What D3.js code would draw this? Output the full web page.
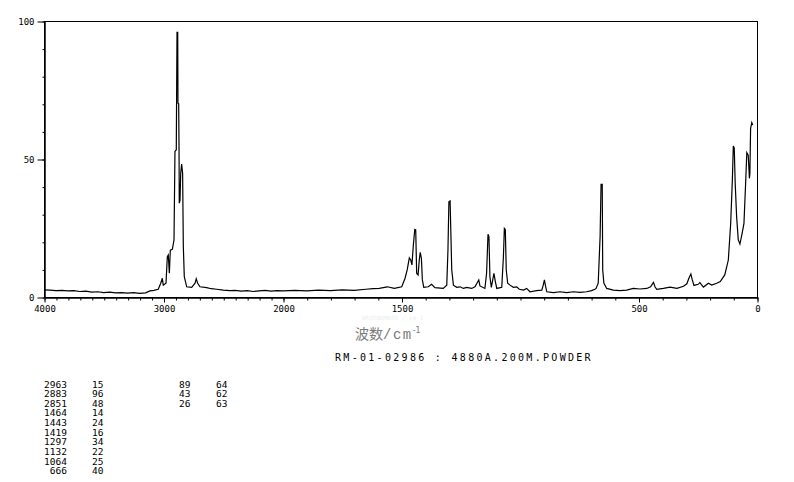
<!DOCTYPE html>
<html>
<head>
<meta charset="utf-8">
<script src="https://cdn.jsdelivr.net/npm/d3@7/dist/d3.min.js"></script>
<style>
  html, body { margin: 0; padding: 0; background: #fff; }
  svg { display: block; }
</style>
</head>
<body>
<svg id="chart" width="794" height="482"></svg>
<script>
// ---- data ----
const wavenumber = [
  4000,3950,3900,3850,3800,3750,3700,3650,3600,3550,3500,3450,3400,3350,3300,3250,3200,3150,3113,3080,
  3044,3023,3010,3002,2979,2968,2960,2951,2943,2926,2912,2904,2893,2887,2881,2879,2873,2870,2868,2862,
  2856,2848,2840,2834,2826,2806,2764,2736,2726,2714,2695,2639,2600,2555,2500,2444,2400,2350,2300,2250,
  2200,2150,2100,2050,2000,1950,1900,1850,1800,1750,1700,1650,1620,1594,1560,1530,1499,1485,1476,1467,
  1461,1456,1450,1444,1440,1436,1430,1425,1421,1416,1412,1406,1387,1373,1359,1324,1309,1304,1300,1295,
  1292,1288,1281,1267,1253,1239,1225,1204,1190,1174,1169,1148,1141,1135,1131,1127,1121,1115,1110,1104,
  1098,1077,1070,1066,1062,1058,1052,1042,1028,1014,1003,985,972,958,930,908,902,897,893,887,
  859,831,803,775,747,719,698,684,679,670,662,658,653,651,646,634,606,578,550,522,
  494,465,449,437,430,423,395,367,338,310,296,287,279,273,266,248,241,226,205,191,
  170,155,136,121,111,104,100,96,92,86,79,72,63,55,48,43,37,32,30,27,22,18
];
const intensity = [
  2.6,2.5,2.3,2.4,2.2,2.3,2.0,2.1,1.8,1.9,1.6,1.8,1.5,1.6,1.4,1.6,1.3,1.5,2.2,2.4,
  2.8,5.0,6.8,4.3,5.0,14.6,15.2,8.6,17.0,17.3,20.7,52.7,53.3,95.9,95.9,70.2,70.0,53.3,34.0,35.0,
  44.8,48.2,44.8,18.2,7.4,3.7,3.5,5.0,6.6,5.0,3.7,3.4,3.0,2.8,2.5,2.3,2.4,2.1,2.3,2.0,
  2.2,2.4,2.1,2.3,2.2,2.4,2.2,2.5,2.3,2.6,2.4,2.8,3.0,3.1,3.7,3.1,3.7,6.8,9.8,14.2,
  13.4,11.6,18.8,24.5,24.3,8.6,8.0,13.4,16.2,14.0,6.2,3.5,3.7,4.6,3.4,3.1,4.3,17.0,34.5,34.8,
  24.3,9.8,4.3,3.5,3.7,3.1,3.5,3.1,3.7,6.2,4.0,3.1,8.6,22.7,21.9,7.4,3.5,6.2,8.6,5.6,
  3.1,3.5,14.6,24.9,24.5,9.8,5.0,4.3,3.5,3.7,2.8,2.5,3.1,1.9,2.3,2.5,4.3,6.2,4.3,1.9,
  1.6,1.9,1.6,1.9,1.7,1.9,2.3,2.8,3.1,5.0,21.9,40.8,40.8,9.8,5.0,3.1,2.5,2.3,2.5,3.1,
  2.9,3.1,3.7,5.3,3.6,2.8,3.1,3.6,3.1,3.9,4.8,6.9,8.3,6.2,4.2,4.6,5.2,3.6,5.0,4.3,
  5.0,5.6,8.0,13.4,26.7,42.4,54.7,53.9,41.2,29.1,20.7,19.2,23.0,26.7,41.2,52.3,51.4,43.0,44.8,61.1,63.2,62.3
];
const xTickLabels = [4000, 3000, 2000, 1500, 500, 0];
const yTickLabels = [0, 50, 100];
const title = "RM-01-02986 : 4880A.200M.POWDER";
const peakWave1 = ["2963","2883","2851","1464","1443","1419","1297","1132","1064","666"];
const peakInt1  = ["15","96","48","14","24","16","34","22","25","40"];
const peakWave2 = ["89","43","26"];
const peakInt2  = ["64","62","63"];

// ---- layout ----
const svg = d3.select("#chart");
const L = 44, R = 757, T = 21, B = 297;
const x = d3.scaleLinear().domain([4000, 2000, 0]).range([L, 283, R]);
const y = d3.scaleLinear().domain([0, 100]).range([B, T]);
const mono = "'DejaVu Sans Mono', 'Liberation Mono', monospace";

// frame
svg.append("rect").attr("x", L + 0.5).attr("y", T + 0.5)
  .attr("width", R - L).attr("height", B - T)
  .attr("fill", "none").attr("stroke", "#000").attr("stroke-width", 1);

// x axis minor + major ticks
const gx = svg.append("g").attr("transform", `translate(0.5,${B + 0.5})`);
gx.call(d3.axisBottom(x).tickValues(d3.range(0, 4001, 100)).tickSize(3).tickSizeOuter(0).tickFormat(""));
const gx2 = svg.append("g").attr("transform", `translate(0.5,${B + 0.5})`);
gx2.call(d3.axisBottom(x).tickValues(xTickLabels).tickSize(5).tickSizeOuter(0).tickPadding(3).tickFormat(d => d));
[gx, gx2].forEach(g => {
  g.select(".domain").attr("stroke", "#000");
  g.selectAll(".tick line").attr("stroke", "#000");
  g.selectAll("text").attr("font-family", mono).attr("font-size", 9).attr("fill", "#000");
});

// y axis minor + major ticks
const gy = svg.append("g").attr("transform", `translate(${L + 0.5},0.5)`);
gy.call(d3.axisLeft(y).tickValues(d3.range(0, 101, 10)).tickSize(2).tickSizeOuter(0).tickFormat(""));
const gy2 = svg.append("g").attr("transform", `translate(${L + 0.5},0.5)`);
gy2.call(d3.axisLeft(y).tickValues(yTickLabels).tickSize(7).tickSizeOuter(0).tickPadding(3).tickFormat(d => d));
[gy, gy2].forEach(g => {
  g.select(".domain").attr("stroke", "#000");
  g.selectAll(".tick line").attr("stroke", "#000");
  g.selectAll("text").attr("font-family", mono).attr("font-size", 9).attr("fill", "#000");
});

// spectrum
const pts = wavenumber.map((w, i) => [w, intensity[i]]);
const line = d3.line().x(d => x(d[0])).y(d => y(d[1]));
svg.append("path").datum(pts).attr("d", line)
  .attr("fill", "none").attr("stroke", "#000").attr("stroke-width", 1.2)
  .attr("stroke-linejoin", "miter");

// faint watermark-like label
svg.append("text").attr("x", 362).attr("y", 320)
  .attr("font-family", mono).attr("font-size", 6).attr("fill", "#ededed")
  .text("WAVENUMBER / cm-1");

// axis title (Chinese)
const xt = svg.append("text").attr("x", 355).attr("y", 338.5).attr("fill", "#7a7a7a");
xt.append("tspan").attr("font-family", "'Noto Sans CJK SC', sans-serif").attr("font-size", 14).text("波数");
xt.append("tspan").attr("font-family", "'Liberation Mono', monospace").attr("font-size", 14)
  .attr("letter-spacing", 1.5).text("/cm");
xt.append("tspan").attr("font-family", "'DejaVu Sans', sans-serif").attr("font-size", 8)
  .attr("dy", -6).text("-1");

// title line
svg.append("text").attr("x", 335).attr("y", 360.8)
  .attr("font-family", mono).attr("font-size", 10).attr("letter-spacing", 2.3)
  .attr("fill", "#000").text(title);

// peak table
const rowY = i => 387.6 + i * 9.63;
const tbl = svg.append("g").attr("font-family", mono).attr("font-size", 9.5).attr("fill", "#000");
function col(arr, xr) {
  tbl.selectAll(null).data(arr).enter().append("text")
    .attr("x", xr).attr("y", (d, i) => rowY(i)).attr("text-anchor", "end").text(d => d);
}
col(peakWave1, 67);
col(peakInt1, 103.5);
col(peakWave2, 190.5);
col(peakInt2, 227.5);
</script>
</body>
</html>
